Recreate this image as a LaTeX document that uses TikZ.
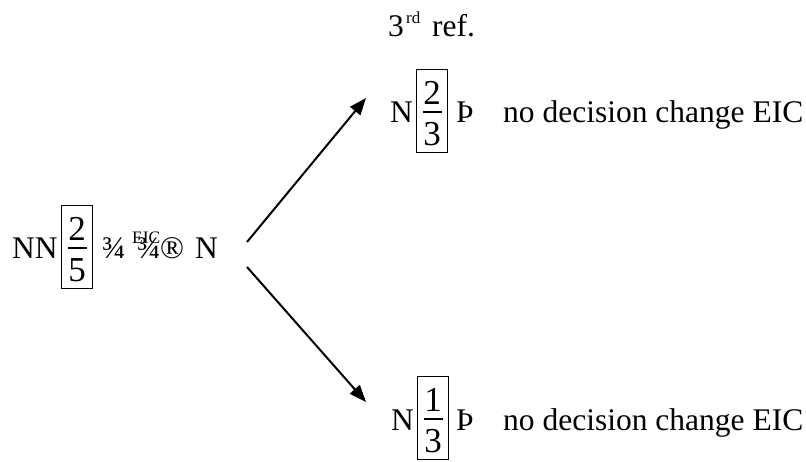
\documentclass[tikz,border=0pt]{standalone}
\usepackage{fontspec}
\setmainfont{Liberation Serif}
\usetikzlibrary{arrows.meta}
\newcommand{\txtsize}{\fontsize{31.5}{36}\selectfont}
\newcommand{\digsize}{\fontsize{35}{40}\selectfont}
\newcommand{\smallsize}{\fontsize{17.5}{20}\selectfont}
\tikzset{
  txt/.style={anchor=base west, inner sep=0pt, font=\txtsize},
  smalltxt/.style={anchor=base west, inner sep=0pt, font=\smallsize},
  dig/.style={anchor=base, inner sep=0pt, font=\digsize},
  fracbox/.style={draw, line width=1.1pt, anchor=north west, minimum width=31pt, minimum height=83pt, inner sep=0pt},
  fracbar/.style={line width=1.3pt},
  arr/.style={line width=2pt, -{Triangle[length=17pt,width=13pt]}}
}
\begin{document}
\begin{tikzpicture}[x=1pt,y=-1pt]
\useasboundingbox (0,0) rectangle (806,461);
% 3rd ref.
\node[txt] (three) at (388,36) {3};
\node[anchor=base west, inner sep=0pt, font=\fontsize{17}{19}\selectfont] (rd) at (406,23) {rd};
\node[txt] (ref) at (432,36) {ref.};
% left group
\node[txt] (nn) at (12,258) {NN};
\node[fracbox] (b1) at (61,205) {};
\node[dig] (n1) at ([shift={(0,35)}]b1.north) {2};
\draw[fracbar] ([shift={(-9.5,43)}]b1.north) -- ++(19,0);
\node[dig] (d1) at ([shift={(0,76)}]b1.north) {5};
\node[txt] (q1) at (102,258) {¾};
\node[txt] (q2) at (137,258) {¾};
\node[smalltxt] (eic0) at (132,243) {EIC};
\node[txt] (reg) at (160,258) {®};
\node[txt] (n0) at (195,258) {N};
% top group
\node[txt] (na) at (390,122) {N};
\node[fracbox] (b2) at (416,69) {};
\node[dig] (n2) at ([shift={(0,35)}]b2.north) {2};
\draw[fracbar] ([shift={(-9.5,43)}]b2.north) -- ++(19,0);
\node[dig] (d2) at ([shift={(0,76)}]b2.north) {3};
\node[txt] (tha) at (456,122) {Þ};
\node[txt] (ta) at (503,122) {no decision change EIC};
% bottom group
\node[txt] (nb) at (391,430) {N};
\node[fracbox] (b3) at (417,376) {};
\node[dig] (n3) at ([shift={(0,35)}]b3.north) {1};
\draw[fracbar] ([shift={(-9.5,43)}]b3.north) -- ++(19,0);
\node[dig] (d3) at ([shift={(0,76)}]b3.north) {3};
\node[txt] (thb) at (456,430) {Þ};
\node[txt] (tb) at (503,430) {no decision change EIC};
% arrows
\coordinate (s1) at (247,242);
\coordinate (e1) at (366,98);
\coordinate (s2) at (247,267);
\coordinate (e2) at (366,402);
\draw[arr] (s1) -- (e1);
\draw[arr] (s2) -- (e2);
\end{tikzpicture}
\end{document}
